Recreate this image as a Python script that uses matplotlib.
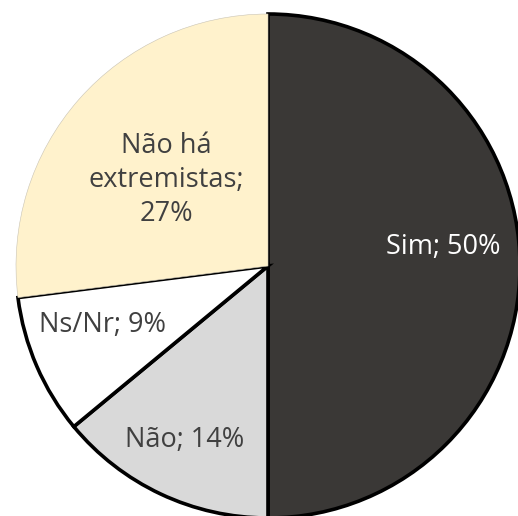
import matplotlib.pyplot as plt

labels = ['Sim', 'Não', 'Ns/Nr', 'Não há\nextremistas']
values = [50, 14, 9, 27]
colors = ['#3a3836', '#d9d9d9', '#ffffff', '#fff2cc']
text_colors = ['#ffffff', '#404040', '#404040', '#404040']
# label spots inside the circle (x, y as fraction of radius)
label_pos = [(0.694, 0.075), (-0.329, -0.690), (-0.655, -0.234), (-0.405, 0.341)]

fig = plt.figure(figsize=(5.18, 5.16), dpi=100)
ax = fig.add_axes([(268 - 252) / 518, (516 - 266 - 252) / 516, 504 / 518, 504 / 516])

wedges, _ = ax.pie(values, colors=colors, startangle=90, counterclock=False,
                   radius=1, wedgeprops=dict(edgecolor='black', linewidth=2.6))
# the last slice has no outline in the original
wedges[3].set_edgecolor('#c8c3b4')
wedges[3].set_linewidth(0.4)
wedges[3].set_zorder(5)

for lab, v, (x, y), c in zip(labels, values, label_pos, text_colors):
    ax.text(x, y, f'{lab}; {v}%' if '\n' not in lab else f'{lab};\n{v}%',
            ha='center', va='center', color=c, fontsize=19.5,
            family='Open Sans', linespacing=1.3, zorder=10)

ax.set_xlim(-1, 1)
ax.set_ylim(-1, 1)
ax.set_aspect('equal')
ax.axis('off')

fig.savefig('out.png', dpi=100)
